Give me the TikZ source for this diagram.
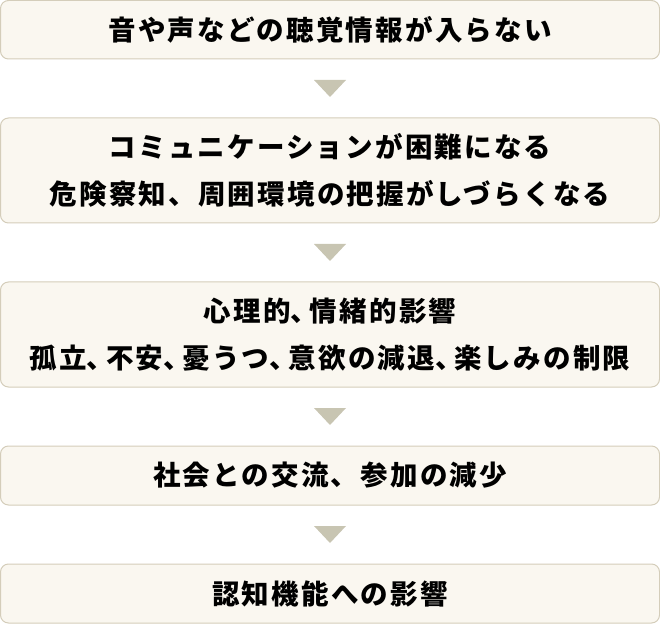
\documentclass[tikz,border=0pt]{standalone}
\usepackage{fontspec}
\newfontfamily\jpfont{Noto Sans CJK JP}[LetterSpace=8]
\usetikzlibrary{calc}
\definecolor{boxfill}{RGB}{250,247,240}
\definecolor{boxline}{RGB}{212,205,186}
\definecolor{trifill}{RGB}{200,197,178}
\newcommand\hcomma{\makebox[0.7em][l]{、}}
\tikzset{
  flowbox/.style={draw=boxline, fill=boxfill, line width=1pt, rounded corners=8pt,
    minimum width=659pt, inner sep=0pt, align=center,
    font=\jpfont\bfseries\fontsize{27.5pt}{47pt}\selectfont},
  tri/.style={fill=trifill, draw=none}
}
\begin{document}
\begin{tikzpicture}[x=1pt,y=1pt]
\useasboundingbox (0,0) rectangle (660,624);
\node[flowbox, minimum height=58.5pt] (b1) at (330,594.25) {音や声などの聴覚情報が入らない};
\node[flowbox, minimum height=105pt] (b2) at (330,453.5) {コミュニケーションが困難になる\\危険察知、周囲環境の把握がしづらくなる};
\node[flowbox, minimum height=105pt] (b3) at (330,289.5) {心理的\hcomma 情緒的影響\\孤立\hcomma 不安\hcomma 憂うつ\hcomma 意欲の減退\hcomma 楽しみの制限};
\node[flowbox, minimum height=59pt] (b4) at (330,148.5) {社会との交流、参加の減少};
\node[flowbox, minimum height=59pt] (b5) at (330,30.5) {認知機能への影響};
\foreach \a/\b/\m in {b1/b2/m1, b2/b3/m2, b3/b4/m3, b4/b5/m4}{
  \coordinate (\m) at ($(\a.south)!0.5!(\b.north)$);
  \fill[tri] ($(\m)+(-16,8.5)$) -- ($(\m)+(16,8.5)$) -- ($(\m)+(0,-8.5)$) -- cycle;
}
\end{tikzpicture}
\end{document}
